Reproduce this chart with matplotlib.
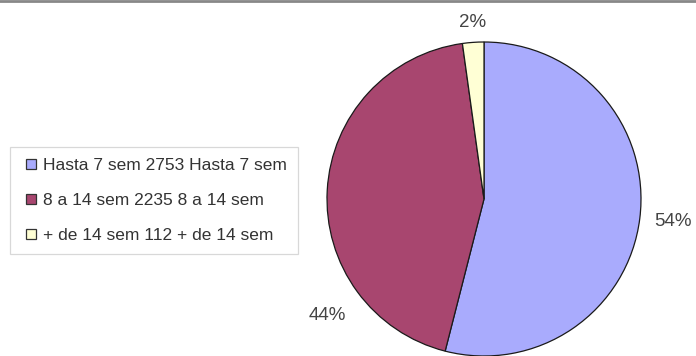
import matplotlib
matplotlib.use("Agg")
import matplotlib.pyplot as plt
from matplotlib.lines import Line2D

categories = ["Hasta 7 sem", "8 a 14 sem", "+ de 14 sem"]
values = [2753, 2235, 112]
colors = ["#A9ABFD", "#A8466F", "#FFFFD5"]

plt.rcParams['font.family'] = ['Liberation Sans', 'DejaVu Sans']

W, H = 696, 356
fig = plt.figure(figsize=(W / 100, H / 100), dpi=100)

cx, cy, r = 484, 199, 157
ax = fig.add_axes([(cx - r) / W, (H - cy - r) / H, 2 * r / W, 2 * r / H])
wedges, _ = ax.pie(values, colors=colors, startangle=90, counterclock=False,
                   wedgeprops=dict(edgecolor="#1a1a1a", linewidth=0.9))
ax.set_xlim(-1, 1)
ax.set_ylim(-1, 1)
ax.set_aspect("equal")
ax.axis("off")

total = sum(values)
pcts = [f"{round(v / total * 100):d}%" for v in values]
label_pos = [(1.204, -0.146), (-1.0, -0.739), (-0.076, 1.127)]
for p, (lx, ly) in zip(pcts, label_pos):
    ax.text(lx, ly, p, ha="center", va="center", fontsize=13.5, color="#444444",
            clip_on=False)

handles = [Line2D([0], [0], marker="s", linestyle="none", markersize=6.5,
                  markerfacecolor=c, markeredgecolor="#333333", markeredgewidth=0.9)
           for c in colors]
labels = [f"{c} {v} {c}" for c, v in zip(categories, values)]
leg = fig.legend(handles, labels, loc="upper left",
                 bbox_to_anchor=(10 / W, 1 - 147 / H), fontsize=12.5,
                 frameon=True, fancybox=False, borderaxespad=0,
                 handlelength=1.12, handletextpad=0.13, labelspacing=1.12,
                 borderpad=0.65, labelcolor="#333333")
leg.get_frame().set_edgecolor("#cfcfcf")
leg.get_frame().set_linewidth(0.9)

fig.add_artist(Line2D([0, 1], [1 - 1 / H, 1 - 1 / H], transform=fig.transFigure,
                      color="#888888", linewidth=2))

fig.savefig("out.png", dpi=100)
